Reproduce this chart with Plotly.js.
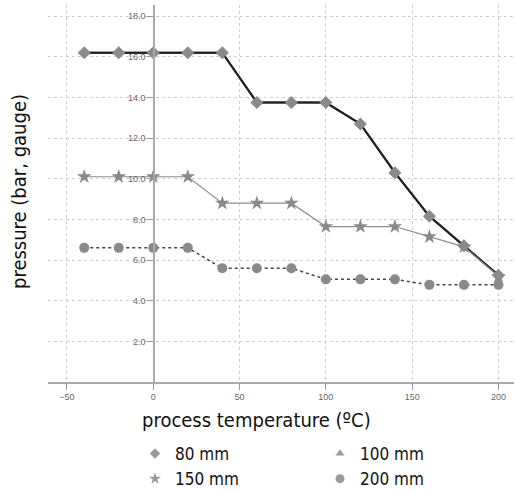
<!DOCTYPE html>
<html>
<head>
<meta charset="utf-8">
<script src="https://cdn.plot.ly/plotly-3.0.1.min.js"></script>
<style>html,body{margin:0;padding:0;background:#fff;}#chart{width:514px;height:492px;}</style>
</head>
<body>
<div id="chart"></div>
<script>
const temperature = [-40, -20, 0, 20, 40, 60, 80, 100, 120, 140, 160, 180, 200];
const p80  = [16.2, 16.2, 16.2, 16.2, 16.2, 13.75, 13.75, 13.75, 12.7, 10.3, 8.15, 6.7, 5.25];
const p100 = [16.2, 16.2, 16.2, 16.2, 16.2, 13.75, 13.75, 13.75, 12.7, 10.3, 8.15, 6.7, 5.25];
const p150 = [10.1, 10.1, 10.1, 10.1, 8.8, 8.8, 8.8, 7.65, 7.65, 7.65, 7.15, 6.65, 5.2];
const p200 = [6.6, 6.6, 6.6, 6.6, 5.6, 5.6, 5.6, 5.05, 5.05, 5.05, 4.78, 4.78, 4.78];
const seriesNames = ['80 mm', '100 mm', '150 mm', '200 mm'];
const xTicks = [-50, 0, 50, 100, 150, 200];
const yTicks = [2, 4, 6, 8, 10, 12, 14, 16, 18];

const txtFont = "'DejaVu Sans Condensed', 'Liberation Sans Narrow', 'Arial Narrow', sans-serif";

const traces = [
  {x: temperature, y: p100, name: seriesNames[1], mode: 'lines+markers', showlegend: false,
   line: {color: '#222', width: 2}, marker: {symbol: 'triangle-up', size: 9, color: '#8a8a8a'}},
  {x: temperature, y: p80, name: seriesNames[0], mode: 'lines+markers', showlegend: false,
   line: {color: '#222', width: 2}, marker: {symbol: 'diamond', size: 10, color: '#8a8a8a'}},
  {x: temperature, y: p150, name: seriesNames[2], mode: 'lines+markers', showlegend: false,
   line: {color: '#8f8f8f', width: 1.2}, marker: {symbol: 'star', size: 11, color: '#8a8a8a'}},
  {x: temperature, y: p200, name: seriesNames[3], mode: 'lines+markers', showlegend: false,
   line: {color: '#444', width: 1.5, dash: 'dot'}, marker: {symbol: 'circle', size: 10, color: '#8a8a8a'}},
  {x: [null], y: [null], name: seriesNames[0], mode: 'markers', legendrank: 1,
   marker: {symbol: 'diamond', size: 8, color: '#9a9a9a'}},
  {x: [null], y: [null], name: seriesNames[1], mode: 'markers', legendrank: 2,
   marker: {symbol: 'triangle-up', size: 8, color: '#9a9a9a'}},
  {x: [null], y: [null], name: seriesNames[2], mode: 'markers', legendrank: 3,
   marker: {symbol: 'star', size: 9, color: '#9a9a9a'}},
  {x: [null], y: [null], name: seriesNames[3], mode: 'markers', legendrank: 4,
   marker: {symbol: 'circle', size: 9, color: '#9a9a9a'}}
];

const layout = {
  width: 514, height: 492,
  margin: {l: 48, r: 0, t: 5, b: 110},
  paper_bgcolor: '#fff', plot_bgcolor: '#fff',
  showlegend: true,
  legend: {orientation: 'h', xref: 'container', yref: 'container',
    x: 135/514, xanchor: 'left', y: (492-436)/492, yanchor: 'top',
    entrywidth: 140, entrywidthmode: 'pixels', traceorder: 'normal',
    font: {family: txtFont, size: 17, color: '#111'}, bgcolor: 'rgba(0,0,0,0)'},
  xaxis: {range: [-61, 209], tickvals: xTicks, ticks: 'outside', ticklen: 6, tickcolor: '#999',
    tickfont: {family: 'Arial, sans-serif', size: 9, color: '#666'},
    showgrid: true, gridcolor: '#cfcfcf', griddash: 'dot', gridwidth: 1,
    zeroline: false, showline: true, linecolor: '#aaa', linewidth: 1.5, fixedrange: true, automargin: false},
  yaxis: {range: [0, 18.55], tickvals: yTicks, tickformat: '.1f', ticks: 'outside', ticklen: 6, tickcolor: '#999',
    tickfont: {family: 'Arial, sans-serif', size: 9, color: '#666'},
    anchor: 'free', position: 61/270,
    showgrid: true, gridcolor: '#cfcfcf', griddash: 'dot', gridwidth: 1,
    zeroline: false, showline: true, linecolor: '#aaa', linewidth: 1.5, fixedrange: true, automargin: false},
  annotations: [
    {text: 'process temperature (ºC)', xref: 'paper', yref: 'paper', x: (256-48)/466, y: (382-420)/377,
     xanchor: 'center', yanchor: 'middle', showarrow: false, font: {family: txtFont, size: 20, color: '#111'}},
    {text: 'pressure (bar, gauge)', xref: 'paper', yref: 'paper', x: (19-48)/466, y: (382-192)/377,
     xanchor: 'center', yanchor: 'middle', textangle: -90, showarrow: false, font: {family: txtFont, size: 20, color: '#111'}}
  ]
};

Plotly.newPlot('chart', traces, layout, {displayModeBar: false, staticPlot: true});
</script>
</body>
</html>
